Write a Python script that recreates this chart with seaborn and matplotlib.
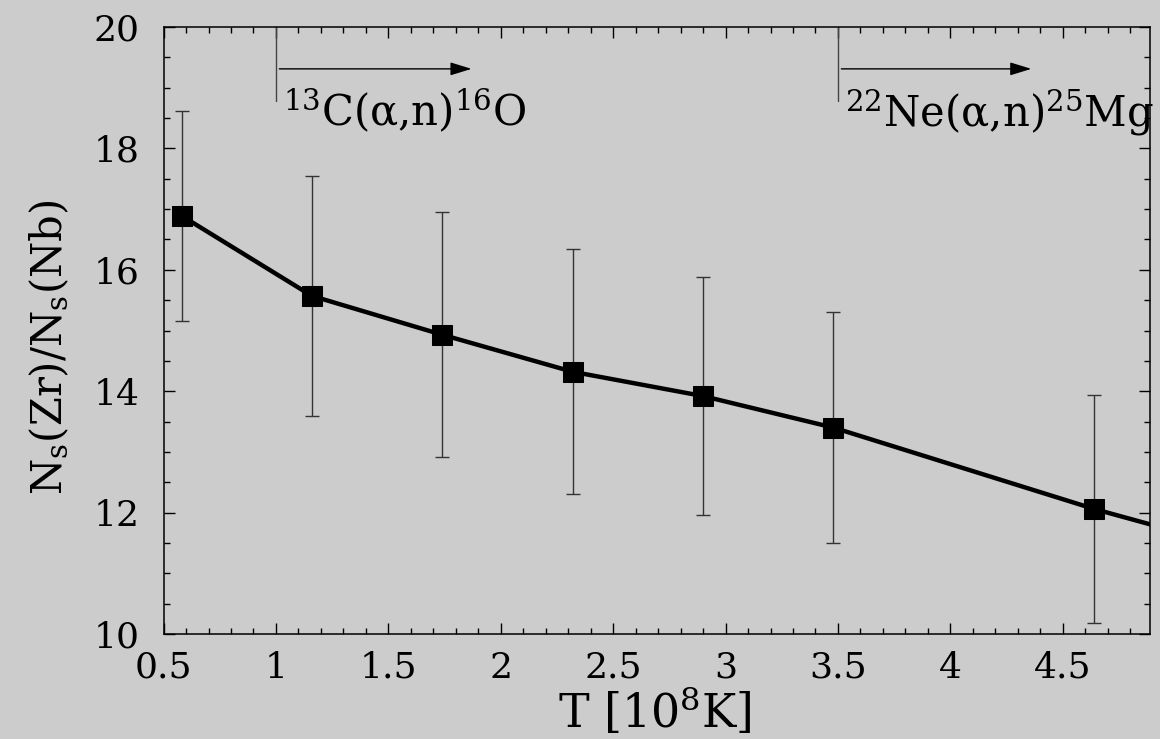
import numpy as np
import pandas as pd
import seaborn as sns
import matplotlib.pyplot as plt
from matplotlib.ticker import MultipleLocator, FormatStrFormatter

# temperature [1e8 K] and Ns(Zr)/Ns(Nb); last line point lies past the x limit
t_vals = [0.58, 1.16, 1.74, 2.32, 2.90, 3.48, 4.64, 5.22]
ratio_vals = [16.89, 15.57, 14.93, 14.32, 13.92, 13.40, 12.06, 11.47]
ratio_err = [1.73, 1.98, 2.02, 2.02, 1.96, 1.90, 1.88]

# neutron source onsets
source_t = [1.0, 3.5]
source_labels = [r'$^{13}$C(α,n)$^{16}$O', r'$^{22}$Ne(α,n)$^{25}$Mg']
arrow_end = [1.87, 4.36]

bg = '#cccccc'
sns.set_style('ticks')
plt.rcParams['font.family'] = ['DejaVu Serif']
plt.rcParams['mathtext.fontset'] = 'dejavuserif'
plt.rcParams.update({'text.color': 'black', 'axes.labelcolor': 'black',
                     'xtick.color': 'black', 'ytick.color': 'black'})

df = pd.DataFrame({'T': t_vals, 'ratio': ratio_vals})

fig = plt.figure(figsize=(11.6, 7.39), dpi=100, facecolor=bg)
ax = fig.add_axes([0.141, 0.142, 0.85, 0.8215])
ax.set_facecolor(bg)

n = len(ratio_err)
ax.errorbar(t_vals[:n], ratio_vals[:n], yerr=ratio_err, fmt='none',
            ecolor='#333333', elinewidth=1.0, capsize=5, capthick=1.0, zorder=2)
sns.lineplot(data=df, x='T', y='ratio', ax=ax, color='black', linewidth=3.2,
             marker='s', markersize=15, markeredgecolor='black', zorder=3)

for x0, lab, x1 in zip(source_t, source_labels, arrow_end):
    ax.plot([x0, x0], [20, 18.78], color='#444444', linewidth=1.0, zorder=1)
    ax.annotate('', xy=(x1, 19.31), xytext=(x0 + 0.015, 19.31),
                arrowprops=dict(arrowstyle='-|>,head_length=1.3,head_width=0.4',
                                color='black', linewidth=1.0, shrinkA=0, shrinkB=0))
    ax.text(x0 + 0.03, 18.36, lab, fontsize=30, ha='left', va='baseline', zorder=4)

ax.set_xlim(0.5, 4.886)
ax.set_ylim(10, 20)
ax.xaxis.set_major_locator(MultipleLocator(0.5))
ax.xaxis.set_minor_locator(MultipleLocator(0.1))
ax.yaxis.set_major_locator(MultipleLocator(2))
ax.yaxis.set_minor_locator(MultipleLocator(0.5))
ax.xaxis.set_major_formatter(FormatStrFormatter('%g'))
ax.yaxis.set_major_formatter(FormatStrFormatter('%g'))
ax.tick_params(which='both', direction='in', top=True, right=True,
               labelsize=26, colors='black')
ax.tick_params(which='major', length=8, width=1.0)
ax.tick_params(which='minor', length=4, width=1.0)
ax.tick_params(axis='x', pad=12)
ax.tick_params(axis='y', pad=17)
for s in ax.spines.values():
    s.set_linewidth(1.1)
    s.set_color('black')

ax.set_xlabel(r'T [10$^{8}$K]', fontsize=33, va='top')
ax.set_ylabel(r'N$_{\rm s}$(Zr)/N$_{\rm s}$(Nb)', fontsize=30)
ax.xaxis.set_label_coords(0.498, -0.086)
ax.yaxis.set_label_coords(-0.094, 0.472)

fig.savefig('out.png', dpi=100, facecolor=bg)
